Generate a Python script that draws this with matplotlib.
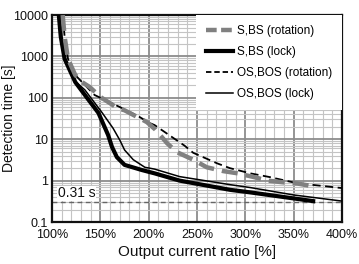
import numpy as np
import matplotlib
matplotlib.use('Agg')
from matplotlib import pyplot as plt
from matplotlib.lines import Line2D
from matplotlib.ticker import FixedLocator, NullFormatter

plt.rcParams['font.family'] = ['Liberation Sans', 'DejaVu Sans']

# S,BS (rotation)
sbs_rot_x = [111, 113, 116.5, 124, 131, 139, 150, 168, 175, 198, 207, 219, 229, 246,
             260, 277, 292, 310, 323, 341, 354, 367]
sbs_rot_y = [10000, 3000, 870, 355, 240, 182, 105, 56, 50, 26, 17, 8, 4.9, 3.2,
             2.1, 1.7, 1.5, 1.2, 1.0, 0.9, 0.85, 0.75]

# S,BS (lock)
sbs_lock_x = [107, 109, 113, 124, 134, 148, 158, 162, 167, 175, 193, 206, 232,
              284, 305, 340, 370]
sbs_lock_y = [10000, 3000, 870, 240, 117, 43, 12.6, 6.5, 3.7, 2.4, 1.8, 1.5, 1.0,
              0.6, 0.52, 0.4, 0.32]

# OS,BOS (rotation)
osbos_rot_x = [111, 113, 116.5, 124, 131, 144, 170, 177, 190, 201, 206, 237, 246,
               271, 284, 305, 325, 353, 400]
osbos_rot_y = [10000, 3000, 870, 355, 240, 117, 60, 50, 35, 24.6, 22, 7, 4.7,
               2.6, 2.0, 1.5, 1.22, 0.87, 0.66]

# OS,BOS (lock)
osbos_lock_x = [107, 109, 113, 124, 134, 152, 163, 170, 175, 184, 196, 206, 232,
                284, 305, 350, 400]
osbos_lock_y = [10000, 3000, 870, 250, 155, 43, 18.6, 9.6, 5.5, 3.2, 2.1, 1.9, 1.25,
                0.8, 0.68, 0.45, 0.32]

limit_time = 0.31

x_ticks = [100, 150, 200, 250, 300, 350, 400]
x_labels = ['100%', '150%', '200%', '250%', '300%', '350%', '400%']
y_ticks = [0.1, 1, 10, 100, 1000, 10000]
y_labels = ['0.1', '1', '10', '100', '1000', '10000']

fig = plt.figure(figsize=(3.59, 2.64), dpi=100)
ax = fig.add_axes([0.145, 0.159, 0.808, 0.784])

ax.set_yscale('log')
ax.set_xlim(100, 400)
ax.set_ylim(0.1, 10000)

# grid
ax.xaxis.set_major_locator(FixedLocator(x_ticks))
ax.xaxis.set_minor_locator(FixedLocator(np.arange(100, 401, 10)))
ax.yaxis.set_major_locator(FixedLocator(y_ticks))
ax.yaxis.set_minor_locator(FixedLocator(
    [m * 10.0 ** e for e in range(-1, 4) for m in range(2, 10)]))
ax.yaxis.set_minor_formatter(NullFormatter())
ax.grid(which='minor', color='#c4c4c4', lw=0.8)
ax.grid(which='major', color='#8c8c8c', lw=1.3)
ax.set_axisbelow(True)

ax.set_xticklabels(x_labels)
ax.set_yticklabels(y_labels)
ax.tick_params(which='both', length=0, labelsize=9, colors='#111111')
ax.tick_params(axis='x', pad=5)
ax.tick_params(axis='y', pad=3)

ax.axhline(limit_time, color='#666666', lw=1.0, ls=(0, (3.5, 2.5)), zorder=2)
ax.text(106, 0.335, '0.31 s', fontsize=10, color='#111111', va='bottom', ha='left',
        bbox=dict(facecolor='white', edgecolor='none', pad=0.3), zorder=3)

ax.plot(osbos_lock_x, osbos_lock_y, color='black', lw=1.1, zorder=4)
ax.plot(sbs_lock_x, sbs_lock_y, color='black', lw=3.0, zorder=5)
ax.plot(osbos_rot_x, osbos_rot_y, color='black', lw=1.3, ls=(0, (4.5, 2.5)), zorder=4)
ax.plot(sbs_rot_x, sbs_rot_y, color='#808080', lw=3.2, ls=(0, (3.6, 1.8)), zorder=6)

handles = [
    Line2D([], [], color='#808080', lw=3.2, ls=(0, (2.4, 1.0))),
    Line2D([], [], color='black', lw=3.0),
    Line2D([], [], color='black', lw=1.3, ls=(0, (3, 1.6))),
    Line2D([], [], color='black', lw=1.1),
]
labels = ['S,BS (rotation)', 'S,BS (lock)', 'OS,BOS (rotation)', 'OS,BOS (lock)']
leg = ax.legend(handles, labels, loc='upper right', fontsize=8.5, frameon=True,
                fancybox=False, handlelength=2.3, handletextpad=0.35,
                labelspacing=0.75, borderpad=0.85, borderaxespad=0.0)
leg.get_frame().set_facecolor('white')
leg.get_frame().set_edgecolor('none')
leg.get_frame().set_alpha(1)
leg.set_zorder(10)

for s in ax.spines.values():
    s.set_color('#111111')
    s.set_linewidth(1.6)

ax.set_xlabel('Output current ratio [%]', fontsize=11, color='#111111', labelpad=3)
ax.set_ylabel('Detection time [s]', fontsize=10, color='#111111')
ax.yaxis.set_label_coords(-0.125, 0.5)

fig.savefig('out.png', dpi=100)
